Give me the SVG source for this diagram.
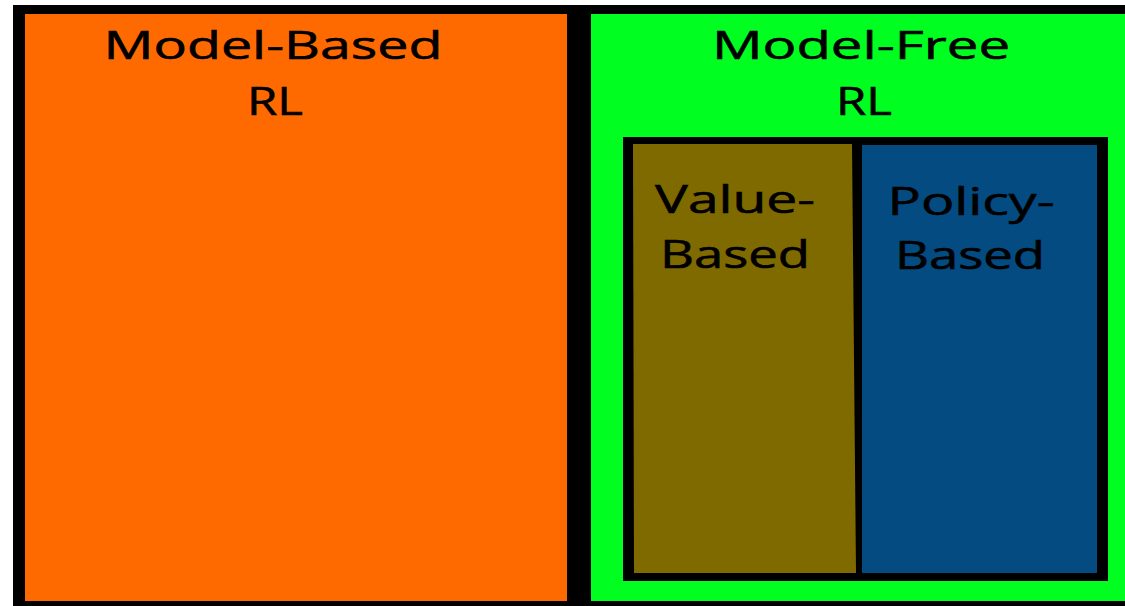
<svg xmlns="http://www.w3.org/2000/svg" width="1125" height="606" viewBox="0 0 1125 606">
  <style>
    .label { font-family: "Open Sans", "DejaVu Sans", sans-serif; font-size: 38px; fill: #000; stroke: #000; stroke-width: 0.6px; text-anchor: middle; }
  </style>
  <rect x="0" y="0" width="1125" height="606" fill="#ffffff"/>
  <!-- outer frame -->
  <rect x="13" y="5" width="1112" height="601" fill="#000000"/>
  <g id="model-based">
    <rect x="25" y="14" width="542" height="587" fill="#ff6a00"/>
    <text class="label" x="273" y="59" textLength="339" lengthAdjust="spacingAndGlyphs">Model-Based</text>
    <text class="label" x="275" y="115" textLength="56" lengthAdjust="spacingAndGlyphs">RL</text>
  </g>
  <g id="model-free">
    <rect x="591" y="14" width="534" height="587" fill="#00ff21"/>
    <text class="label" x="861" y="59" textLength="298" lengthAdjust="spacingAndGlyphs">Model-Free</text>
    <text class="label" x="864" y="115" textLength="56" lengthAdjust="spacingAndGlyphs">RL</text>
    <rect x="623" y="137" width="485" height="444" fill="#000000"/>
  </g>
  <g id="value-based">
    <polygon points="633,144 852,144 856,573 634,573" fill="#7f6a00"/>
    <text class="label" x="735" y="213" textLength="160" lengthAdjust="spacingAndGlyphs">Value-</text>
    <text class="label" x="735" y="268" textLength="150" lengthAdjust="spacingAndGlyphs">Based</text>
  </g>
  <g id="policy-based">
    <rect x="862" y="145" width="235" height="428" fill="#034b80"/>
    <text class="label" x="971" y="215" textLength="167" lengthAdjust="spacingAndGlyphs">Policy-</text>
    <text class="label" x="970" y="269" textLength="150" lengthAdjust="spacingAndGlyphs">Based</text>
  </g>
  <g id="connectors"/>
</svg>
